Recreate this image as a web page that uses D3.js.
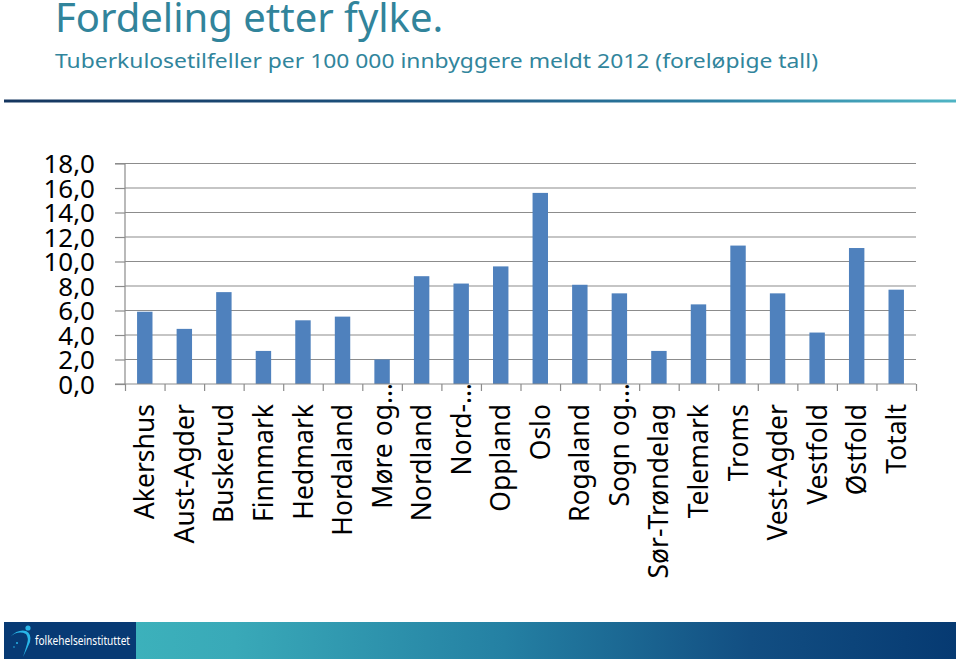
<!DOCTYPE html>
<html>
<head>
<meta charset="utf-8">
<script src="https://cdn.jsdelivr.net/npm/d3@7/dist/d3.min.js"></script>
<style>
  html, body { margin: 0; padding: 0; background: #ffffff; }
  svg { display: block; }
</style>
</head>
<body>
<svg id="chart" width="960" height="661"></svg>
<script>
// ---- Data ----
const categories = ["Akershus", "Aust-Agder", "Buskerud", "Finnmark", "Hedmark", "Hordaland",
  "Møre og…", "Nordland", "Nord-…", "Oppland", "Oslo", "Rogaland", "Sogn og…",
  "Sør-Trøndelag", "Telemark", "Troms", "Vest-Agder", "Vestfold", "Østfold", "Totalt"];
const values = [5.9, 4.5, 7.5, 2.7, 5.2, 5.5, 2.0, 8.8, 8.2, 9.6, 15.6, 8.1, 7.4,
  2.7, 6.5, 11.3, 7.4, 4.2, 11.1, 7.7];
const yTicks = [0, 2, 4, 6, 8, 10, 12, 14, 16, 18];
const titleText = "Fordeling etter fylke.";
const subtitleText = "Tuberkulosetilfeller per 100 000 innbyggere meldt 2012 (foreløpige tall)";
const footerText = "folkehelseinstituttet";

const svg = d3.select("#chart");
const FONT = "'Noto Sans', 'DejaVu Sans', sans-serif";
const defs = svg.append("defs");

// Header
svg.append("text").attr("x", 55).attr("y", 32)
  .attr("font-family", FONT).attr("font-size", 40).attr("fill", "#31849b")
  .text(titleText);
svg.append("text").attr("x", 55).attr("y", 68)
  .attr("font-family", FONT).attr("font-size", 20).attr("fill", "#31859c")
  .attr("textLength", 763).attr("lengthAdjust", "spacingAndGlyphs")
  .text(subtitleText);

const hg = defs.append("linearGradient").attr("id", "hdr").attr("x1", "0%").attr("x2", "100%");
[[0, "#15365f"], [0.45, "#1d5480"], [0.75, "#2c7fa3"], [1, "#4fb4c4"]].forEach(s =>
  hg.append("stop").attr("offset", s[0]).attr("stop-color", s[1]));
svg.append("rect").attr("x", 4).attr("y", 99.5).attr("width", 952).attr("height", 3)
  .attr("fill", "url(#hdr)");

// Chart
const x0 = 125, x1 = 916, yBase = 384, yTop = 163.5;
const y = d3.scaleLinear().domain([0, 18]).range([yBase, yTop]);
const x = d3.scaleBand().domain(categories).range([x0, x1]).paddingInner(0.61).paddingOuter(0.305);
const xi = d3.scaleLinear().domain([0, categories.length]).range([x0, x1]);
const fmt = v => d3.format(".1f")(v).replace(".", ",");

const g = svg.append("g");
// gridlines
g.selectAll("line.grid").data(yTicks.filter(d => d > 0)).join("line")
  .attr("x1", x0).attr("x2", x1).attr("y1", d => y(d)).attr("y2", d => y(d))
  .attr("stroke", "#8c8c8c").attr("stroke-width", 1.2);

// bars
g.selectAll("rect.bar").data(values).join("rect")
  .attr("x", (d, i) => x(categories[i])).attr("width", x.bandwidth())
  .attr("y", d => y(d)).attr("height", d => y(0) - y(d))
  .attr("fill", "#4f81bd");

// y axis
const yAxis = d3.axisLeft(y).tickValues(yTicks).tickSize(10).tickPadding(20).tickFormat(fmt);
const ya = svg.append("g").attr("transform", `translate(${x0},0)`).call(yAxis);
ya.select(".domain").attr("stroke", "#8c8c8c").attr("stroke-width", 1.2).attr("d", `M-10,${yTop}H0V${yBase}`);
ya.selectAll(".tick line").attr("stroke", "#8c8c8c").attr("stroke-width", 1.2);
ya.selectAll(".tick text").attr("font-family", FONT).attr("font-size", 26).attr("fill", "#000").attr("dy", "0.36em");

// x axis
const xAxis = d3.axisBottom(xi).tickValues(d3.range(categories.length + 1)).tickSize(7).tickFormat("");
const xa = svg.append("g").attr("transform", `translate(0,${yBase})`).call(xAxis);
xa.select(".domain").attr("stroke", "#8c8c8c").attr("stroke-width", 1.2).attr("d", `M${x0 - 10},0H${x1}`);
xa.selectAll(".tick line").attr("stroke", "#8c8c8c").attr("stroke-width", 1.2);

// x labels (rotated)
const labG = svg.append("g");
categories.forEach((c, i) => {
  const cx = x(c) + x.bandwidth() / 2;
  const trunc = c.endsWith("…");
  const main = trunc ? c.slice(0, -1) : c;
  const t = labG.append("g").attr("transform", `translate(${cx},404) rotate(-90)`);
  t.append("text").attr("text-anchor", "end").attr("dy", "0.36em")
    .attr("font-family", FONT).attr("font-size", 26.5).attr("fill", "#000").text(main);
  if (trunc) {
    t.append("text").attr("text-anchor", "start").attr("dy", "0.36em").attr("x", 0)
      .attr("font-family", FONT).attr("font-size", 26.5).attr("fill", "#000").text("…");
  }
});

// Footer
const fg = defs.append("linearGradient").attr("id", "ftr").attr("x1", "0%").attr("x2", "100%");
[[0, "#3cb1bb"], [0.12, "#39a9b8"], [0.45, "#2480a3"], [0.75, "#124e82"], [1, "#063a72"]].forEach(s =>
  fg.append("stop").attr("offset", s[0]).attr("stop-color", s[1]));
svg.append("rect").attr("x", 136).attr("y", 622).attr("width", 820).attr("height", 37).attr("fill", "url(#ftr)");
svg.append("rect").attr("x", 4).attr("y", 622).attr("width", 132).attr("height", 37).attr("fill", "#073a74");
// logo icon
svg.append("path").attr("d", "M10,637 Q18,630 26,634 Q29,638 27,644 Q25,651 23,657 Q27,649 30,642 Q32,634 26,631 Q18,629 10,637 Z")
  .attr("fill", "#29b6e8");
svg.append("circle").attr("cx", 28).attr("cy", 628).attr("r", 2.6).attr("fill", "#29b6e8");
svg.append("circle").attr("cx", 17).attr("cy", 643).attr("r", 1).attr("fill", "#29b6e8");
svg.append("circle").attr("cx", 14).attr("cy", 647).attr("r", 0.8).attr("fill", "#29b6e8");
svg.append("text").attr("x", 35).attr("y", 645).attr("font-family", FONT).attr("font-size", 12)
  .attr("fill", "#ffffff").attr("textLength", 95).attr("lengthAdjust", "spacingAndGlyphs").text(footerText);
</script>
</body>
</html>
